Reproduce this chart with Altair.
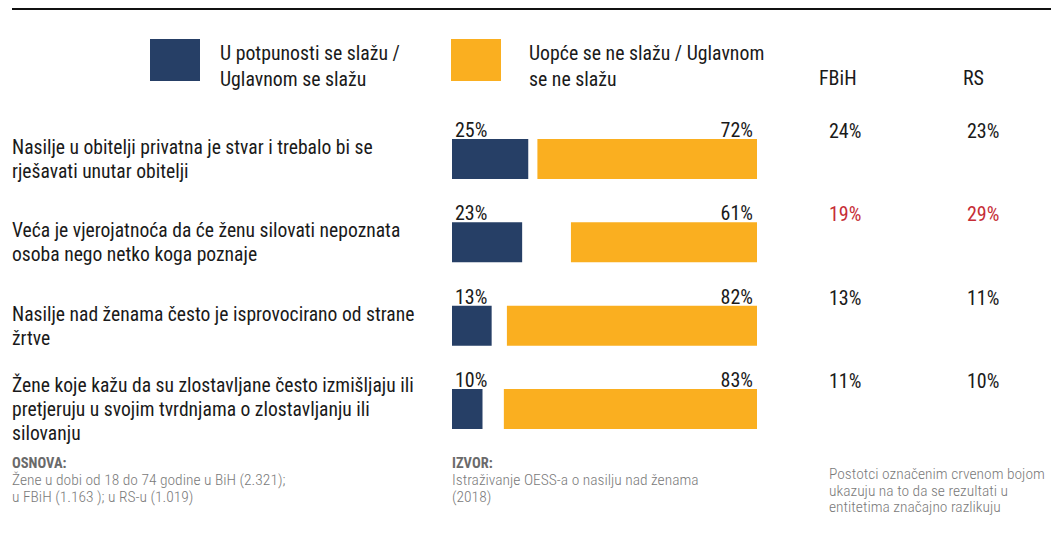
import altair as alt
import pandas as pd

# ---------------- data ----------------
questions = [
    "Nasilje u obitelji privatna je stvar i trebalo bi se\nrješavati unutar obitelji",
    "Veća je vjerojatnoća da će ženu silovati nepoznata\nosoba nego netko koga poznaje",
    "Nasilje nad ženama često je isprovocirano od strane\nžrtve",
    "Žene koje kažu da su zlostavljane često izmišljaju ili\npretjeruju u svojim tvrdnjama o zlostavljanju ili\nsilovanju",
]
agree = [25, 23, 13, 10]
disagree = [72, 61, 82, 83]
fbih = [24, 19, 13, 11]
rs = [23, 29, 11, 10]
significant = [False, True, False, False]

legend_labels = [
    "U potpunosti se slažu /\nUglavnom se slažu",
    "Uopće se ne slažu / Uglavnom\nse ne slažu",
]
column_headers = ["FBiH", "RS"]
footer_basis_title = "OSNOVA:"
footer_basis = ["Žene u dobi od 18 do 74 godine u BiH (2.321);", "u FBiH (1.163 ); u RS-u (1.019)"]
footer_source_title = "IZVOR:"
footer_source = ["Istraživanje OESS-a o nasilju nad ženama", "(2018)"]
footer_note = ["Postotci označenim crvenom bojom", "ukazuju na to da se rezultati u", "entitetima značajno razlikuju"]

# ---------------- style ----------------
NAVY = "#263F66"
ORANGE = "#FAAF20"
RED = "#C62D36"
TXT = "#1a1a1a"
GRAY = "#7a7a7a"
FONT = "Roboto Condensed, DejaVu Sans Condensed, sans-serif"
FONT_LIGHT = "Roboto Condensed Light, Roboto Condensed, sans-serif"
FS = 20
QFS = 19.6

df = pd.DataFrame({
    "q": questions,
    "agree": agree,
    "disagree": disagree,
    "fbih": fbih,
    "rs": rs,
    "sig": significant,
})
df["nlines"] = [q.count("\n") + 1 for q in questions]
df["agree_label"] = [f"{v}%" for v in agree]
df["disagree_label"] = [f"{v}%" for v in disagree]
df["fbih_label"] = [f"{v}%" for v in fbih]
df["rs_label"] = [f"{v}%" for v in rs]

xscale = alt.Scale(domain=[0, 100], range=[444, 749])
yscale = alt.Scale(domain=questions, range=[131, 421], paddingInner=0.52, paddingOuter=0)
y_enc = alt.Y("q:N", sort=questions, scale=yscale, axis=None)

base = alt.Chart(df).transform_calculate(zero="0", full="100", o_start="100 - datum.disagree")

navy_bars = base.mark_bar(color=NAVY).encode(
    x=alt.X("zero:Q", scale=xscale, axis=None), x2="agree:Q", y=y_enc
)
orange_bars = base.mark_bar(color=ORANGE).encode(
    x=alt.X("o_start:Q", scale=xscale, axis=None), x2="full:Q", y=y_enc
)
agree_text = base.mark_text(
    align="left", baseline="alphabetic", dx=3, dy=-22, font=FONT, fontSize=FS, color=TXT
).encode(x=alt.X("zero:Q", scale=xscale, axis=None), y=y_enc, text="agree_label:N")
disagree_text = base.mark_text(
    align="right", baseline="alphabetic", dx=-4, dy=-22, font=FONT, fontSize=FS, color=TXT
).encode(x=alt.X("full:Q", scale=xscale, axis=None), y=y_enc, text="disagree_label:N")

q_text2 = base.transform_filter("datum.nlines == 2").mark_text(
    align="left", baseline="middle", lineBreak="\n", lineHeight=24, font=FONT, fontSize=QFS, color=TXT, dy=-11
).encode(x=alt.value(4), y=y_enc, text="q:N")
q_text3 = base.transform_filter("datum.nlines == 3").mark_text(
    align="left", baseline="middle", lineBreak="\n", lineHeight=24, font=FONT, fontSize=QFS, color=TXT, dy=-23
).encode(x=alt.value(4), y=y_enc, text="q:N")

fbih_text = base.mark_text(
    align="left", baseline="alphabetic", dy=-21, font=FONT, fontSize=FS
).encode(
    x=alt.value(821), y=y_enc, text="fbih_label:N",
    color=alt.condition("datum.sig", alt.value(RED), alt.value(TXT)),
)
rs_text = base.mark_text(
    align="left", baseline="alphabetic", dy=-21, font=FONT, fontSize=FS
).encode(
    x=alt.value(959), y=y_enc, text="rs_label:N",
    color=alt.condition("datum.sig", alt.value(RED), alt.value(TXT)),
)

one = pd.DataFrame({"k": [0]})

top_rule = alt.Chart(one).mark_rule(color="#111111", strokeWidth=2).encode(
    x=alt.value(4), x2=alt.value(1043), y=alt.value(1)
)

sw_navy = alt.Chart(one).mark_rect(color=NAVY).encode(
    x=alt.value(142), x2=alt.value(192), y=alt.value(31), y2=alt.value(73)
)
sw_orange = alt.Chart(one).mark_rect(color=ORANGE).encode(
    x=alt.value(443), x2=alt.value(493), y=alt.value(31), y2=alt.value(73)
)


def text_layer(s, x, y, size=FS, color=TXT, weight="normal", lh=25, font=FONT):
    d = pd.DataFrame({"t": [s]})
    return alt.Chart(d).mark_text(
        align="left", baseline="alphabetic", lineBreak="\n", lineHeight=lh,
        font=font, fontSize=size, color=color, fontWeight=weight
    ).encode(x=alt.value(x), y=alt.value(y), text="t:N")


leg1 = text_layer(legend_labels[0], 212, 52, size=19.8, lh=26)
leg2 = text_layer(legend_labels[1], 521, 52, size=19.8, lh=26)
h1 = text_layer(column_headers[0], 811, 77, size=FS)
h2 = text_layer(column_headers[1], 955, 77, size=FS)

FFS = 15.5
f1t = text_layer(footer_basis_title, 4, 460, size=14.5, color="#6a6a6a", weight="bold")
f1 = text_layer("\n".join(footer_basis), 4, 477, size=FFS, color=GRAY, lh=17, font=FONT_LIGHT)
f2t = text_layer(footer_source_title, 444, 460, size=14.5, color="#6a6a6a", weight="bold")
f2 = text_layer("\n".join(footer_source), 444, 477, size=FFS, color=GRAY, lh=17, font=FONT_LIGHT)
f3 = text_layer("\n".join(footer_note), 821, 471, size=FFS, color=GRAY, lh=16.5, font=FONT_LIGHT)

chart = alt.layer(
    top_rule, sw_navy, sw_orange, leg1, leg2, h1, h2,
    navy_bars, orange_bars, agree_text, disagree_text, q_text2, q_text3, fbih_text, rs_text,
    f1t, f1, f2t, f2, f3,
).properties(
    width=1043, height=518, autosize="none", padding=0, background="white"
).configure_view(stroke=None)

chart.save("out.html", embed_options={"renderer": "svg", "actions": False})
